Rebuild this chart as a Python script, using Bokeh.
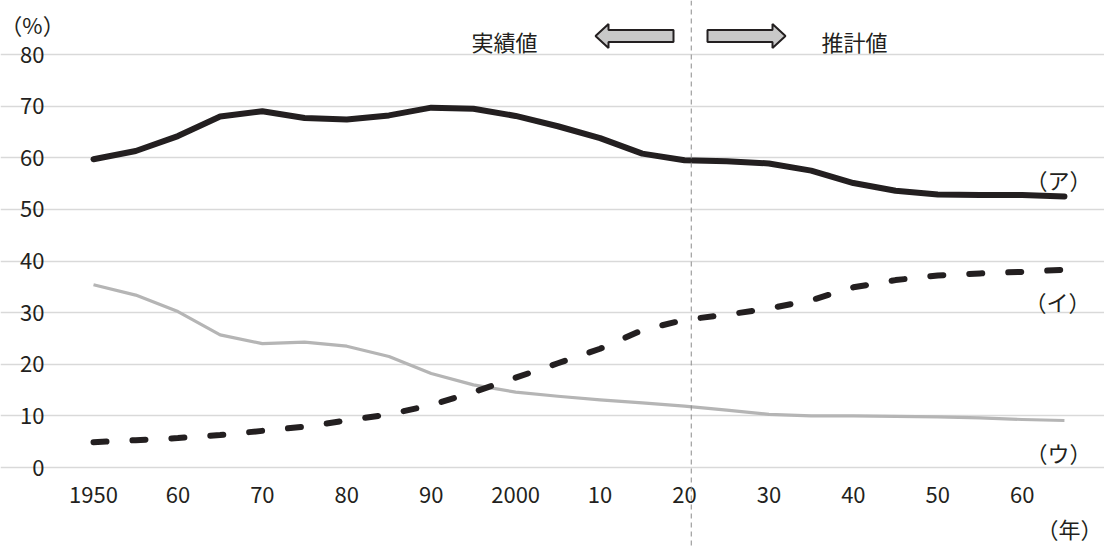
from bokeh.plotting import figure
from bokeh.models import (Range1d, FixedTicker, Label, PolyAnnotation, Span,
                          ColumnDataSource, LinearAxis)
from bokeh.embed import file_html
from bokeh.resources import INLINE

# ---- data ----
years = [1950, 1955, 1960, 1965, 1970, 1975, 1980, 1985, 1990, 1995, 2000, 2005,
         2010, 2015, 2020, 2025, 2030, 2035, 2040, 2045, 2050, 2055, 2060, 2065]
series_a = [59.7, 61.3, 64.2, 68.0, 69.0, 67.7, 67.4, 68.2, 69.7, 69.5, 68.1, 66.1,
            63.8, 60.8, 59.5, 59.3, 58.9, 57.5, 55.1, 53.6, 52.9, 52.8, 52.8, 52.5]
series_i = [4.9, 5.3, 5.7, 6.3, 7.1, 7.9, 9.1, 10.3, 12.1, 14.6, 17.4, 20.2,
            23.0, 26.6, 28.6, 29.6, 30.8, 32.4, 34.9, 36.3, 37.2, 37.6, 37.9, 38.3]
series_u = [35.4, 33.4, 30.2, 25.7, 24.0, 24.3, 23.5, 21.5, 18.2, 16.0, 14.6, 13.8,
            13.1, 12.5, 11.9, 11.1, 10.3, 10.0, 10.0, 9.9, 9.8, 9.6, 9.3, 9.1]
y_ticks = [0, 10, 20, 30, 40, 50, 60, 70, 80]
x_ticks = [1950, 1960, 1970, 1980, 1990, 2000, 2010, 2020, 2030, 2040, 2050, 2060]
x_tick_labels = ["1950", "60", "70", "80", "90", "2000", "10", "20", "30", "40", "50", "60"]
series_names = ["（ア）", "（イ）", "（ウ）"]
boundary_year = 2020.8
left_text = "実績値"
right_text = "推計値"
y_unit = "（%）"
x_unit = "（年）"

FONT = "Noto Sans CJK JP"
TXT = "#231f20"
FS = "22px"

W, H = 1104, 546
SX = 8.443      # px per year
SY = 5.1625     # px per percentage point
XL = 1950 - 93 / SX
XR = XL + W / SX
YT = 467 / SY
YB = YT - H / SY
PLOT_X0, PLOT_X1 = 1947.5, 2067.4   # extent of the plotting area (grid)

def dx(px):
    return XL + px / SX
def dy(py):
    return YT - py / SY

p = figure(width=W, height=H, output_backend="svg", toolbar_location=None, title=None,
           x_range=Range1d(XL, XR), y_range=Range1d(YB, YT),
           x_axis_location=None, y_axis_location=None,
           min_border=0, min_border_left=0, min_border_right=0,
           min_border_top=0, min_border_bottom=0,
           background_fill_color="white", border_fill_color="white")
p.outline_line_color = None
p.xgrid.grid_line_color = None
p.ygrid.grid_line_color = "#d9d9d9"
p.ygrid.grid_line_width = 1.6
p.ygrid.ticker = FixedTicker(ticks=y_ticks)
p.ygrid.bounds = (PLOT_X0, PLOT_X1)

yax = LinearAxis(fixed_location=PLOT_X0, ticker=FixedTicker(ticks=y_ticks))
xax = LinearAxis(fixed_location=0, ticker=FixedTicker(ticks=x_ticks),
                 major_label_overrides={t: l for t, l in zip(x_ticks, x_tick_labels)})
for ax in (xax, yax):
    ax.axis_line_color = None
    ax.major_tick_line_color = None
    ax.minor_tick_line_color = None
    ax.major_tick_in = 0
    ax.major_tick_out = 0
    ax.major_label_text_font = FONT
    ax.major_label_text_font_size = FS
    ax.major_label_text_color = TXT
yax.major_label_standoff = 28
xax.major_label_standoff = 19
p.add_layout(yax, "left")
p.add_layout(xax, "below")

# boundary between actual and projected values
p.add_layout(Span(location=boundary_year, dimension="height", line_color="#8a8a8a",
                  line_width=1, line_dash="5 4"))

src = ColumnDataSource(dict(x=years, a=series_a, i=series_i, u=series_u))
p.line("x", "u", source=src, line_color="#b5b5b5", line_width=3.2, line_join="round")
p.line("x", "i", source=src, line_color=TXT, line_width=6, line_dash="13 26",
       line_cap="round", line_join="round")
p.line("x", "a", source=src, line_color=TXT, line_width=6, line_cap="round", line_join="round")

# series labels
lab_pos = [(1058, 178), (1057, 300), (1058, 451)]
for name, (px, py) in zip(series_names, lab_pos):
    p.add_layout(Label(x=dx(px), y=dy(py), text=name, text_font=FONT, text_font_size=FS,
                       text_color=TXT, text_align="center", text_baseline="middle"))

# unit labels and period texts
for t, (px, py) in [(y_unit, (32, 23)), (x_unit, (1069, 527)),
                    (left_text, (504, 40)), (right_text, (854, 40))]:
    p.add_layout(Label(x=dx(px), y=dy(py), text=t, text_font=FONT, text_font_size=FS,
                       text_color=TXT, text_align="center", text_baseline="middle"))

# block arrows
def block_arrow(tail, tip, cy, head=13, hh=12, sh=6):
    s = 1 if tip > tail else -1
    hb = tip - s * head
    pts = [(tip, cy), (hb, cy - hh), (hb, cy - sh), (tail, cy - sh),
           (tail, cy + sh), (hb, cy + sh), (hb, cy + hh)]
    return [dx(a) for a, b in pts], [dy(b) for a, b in pts]

for tail, tip in [(673, 595), (707, 785)]:
    xs, ys = block_arrow(tail, tip, 35.5)
    p.add_layout(PolyAnnotation(xs=xs, ys=ys, fill_color="#c8c8c8", fill_alpha=1,
                                line_color=TXT, line_width=2, line_alpha=1))

open("out.html", "w").write(file_html(p, INLINE))
